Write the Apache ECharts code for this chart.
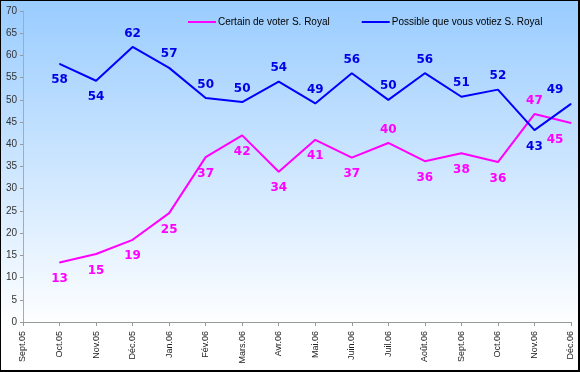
<!DOCTYPE html>
<html>
<head>
<meta charset="utf-8">
<script src="https://cdn.jsdelivr.net/npm/echarts@6/dist/echarts.min.js"></script>
<style>
html,body{margin:0;padding:0;background:#fff;}
#wrap{position:relative;width:580px;height:372px;}
#chart{position:absolute;left:0;top:0;width:580px;height:372px;}
#frame{position:absolute;left:0;top:0;width:580px;height:372px;box-sizing:border-box;border-left:1px solid #000;border-top:1px solid #000;border-right:2px solid #000;border-bottom:2px solid #000;pointer-events:none;}
</style>
</head>
<body>
<div id="wrap"><div id="chart"></div><div id="frame"></div></div>
<script>
var categories = ['Sept.05','Oct.05','Nov.05','Déc.05','Jan.06','Fév.06','Mars.06','Avr.06','Mai.06','Juin.06','Juil.06','Août.06','Sept.06','Oct.06','Nov.06','Déc.06'];
var certain = [null, 13.4, 15.3, 18.5, 24.5, 37.1, 42.0, 33.8, 41.0, 37.0, 40.3, 36.2, 38.0, 36.0, 46.8, 44.8];
var possible = [null, 58.1, 54.3, 61.9, 57.2, 50.4, 49.5, 54.1, 49.2, 56.0, 50.0, 56.0, 50.7, 52.3, 43.2, 49.1];
var yTicks = [0,5,10,15,20,25,30,35,40,45,50,55,60,65,70];

// label placement (index -> 'top' / 'bottom')
var certainPos = {10:'top', 14:'top'};
var possiblePos = {1:'bottom', 2:'bottom', 14:'bottom'};

function buildData(values, posMap, defPos) {
  return values.map(function (v, i) {
    if (v === null) return null;
    var pos = posMap[i] || defPos;
    var item = { value: v, label: { position: pos, distance: pos === 'bottom' ? 10 : 7 } };
    if (i === values.length - 1) {
      item.label.offset = [-16, 0];
    }
    return item;
  });
}

var chart = echarts.init(document.getElementById('chart'));
var labelFont = { fontFamily: 'DejaVu Sans', fontWeight: 'bold', fontSize: 12 };

chart.setOption({
  backgroundColor: new echarts.graphic.LinearGradient(0, 0, 0, 1, [
    { offset: 0, color: '#99CCFF' },
    { offset: 0.88, color: '#FFFFFF' },
    { offset: 1, color: '#FFFFFF' }
  ]),
  animation: false,
  grid: { left: 23, right: 9, top: 11, bottom: 50, containLabel: false },
  legend: {
    left: 183, top: 12,
    itemWidth: 28, itemHeight: 2, itemGap: 32,
    icon: 'rect',
    textStyle: { fontFamily: 'Liberation Sans', fontSize: 10, color: '#000', padding: [0,0,0,-3] },
    data: ['Certain de voter S. Royal', 'Possible que vous votiez S. Royal']
  },
  xAxis: {
    type: 'category',
    boundaryGap: false,
    data: categories,
    axisLine: { lineStyle: { color: '#999', width: 1 } },
    axisTick: { show: true, length: 4, alignWithLabel: true, lineStyle: { color: '#999' } },
    axisLabel: { rotate: 90, interval: 0, margin: 9, fontFamily: 'Liberation Sans', fontSize: 9, color: '#222' },
    splitLine: { show: false }
  },
  yAxis: {
    type: 'value',
    min: 0, max: 70, interval: 5,
    axisLine: { show: true, lineStyle: { color: '#aaa', width: 1 } },
    axisTick: { show: true, length: 3, lineStyle: { color: '#999' } },
    axisLabel: {
      margin: 6, fontFamily: 'Liberation Sans', fontSize: 10, color: '#333',
      formatter: function (v) { return yTicks.indexOf(v) >= 0 ? String(v) : ''; }
    },
    splitLine: { show: false }
  },
  series: [
    {
      name: 'Certain de voter S. Royal',
      type: 'line',
      data: buildData(certain, certainPos, 'bottom'),
      symbol: 'circle', symbolSize: 1,
      color: '#FF00FF',
      lineStyle: { color: '#FF00FF', width: 2 },
      itemStyle: { color: '#FF00FF' },
      label: Object.assign({ show: true, color: '#FF00FF',
        formatter: function (p) { return Math.round(p.value); } }, labelFont),
      connectNulls: false
    },
    {
      name: 'Possible que vous votiez S. Royal',
      type: 'line',
      data: buildData(possible, possiblePos, 'top'),
      symbol: 'circle', symbolSize: 1,
      color: '#0000FF',
      lineStyle: { color: '#0000FF', width: 2 },
      itemStyle: { color: '#0000FF' },
      label: Object.assign({ show: true, color: '#0000E6',
        formatter: function (p) { return Math.round(p.value); } }, labelFont),
      connectNulls: false
    }
  ]
});
</script>
</body>
</html>
